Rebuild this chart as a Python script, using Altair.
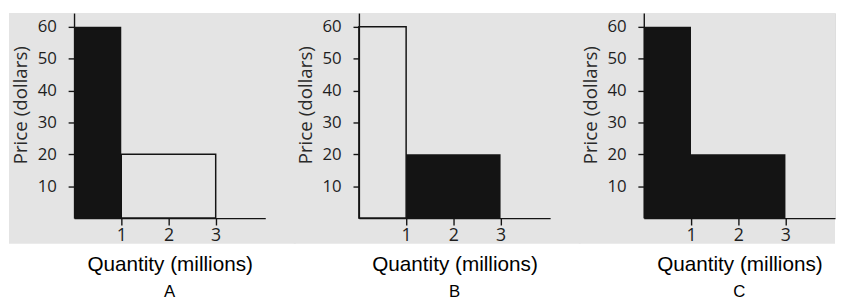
import altair as alt
import pandas as pd

# ---- data ----
panels = ["A", "B", "C"]
q_start = [0, 1]          # quantity where each block starts (millions)
q_end = [1, 3]            # quantity where each block ends (millions)
price = [60, 20]          # price of each block (dollars)
filled = {"A": [True, False], "B": [False, True], "C": [True, True]}
x_ticks = [1, 2, 3]
y_ticks = [10, 20, 30, 40, 50, 60]

W, H = 194, 208
GRAY = "#e4e4e4"
INK = "#141414"

xs = alt.Scale(domain=[0, 4.05], nice=False, zero=False)
ys = alt.Scale(domain=[0, 64.3], nice=False, zero=False)

xaxis = alt.Axis(values=x_ticks, title="Quantity  (millions)", grid=False,
                 domainColor=INK, domainWidth=1.4, tickColor=INK, tickWidth=1.4,
                 tickSize=7, labelFont="Open Sans", labelFontSize=18,
                 labelColor="#1e1e1e", labelPadding=2, labelFlush=False,
                 titleFont="Liberation Sans", titleFontSize=21,
                 titleFontWeight="normal", titleColor="black", titlePadding=9,
                 zindex=1)
yaxis = alt.Axis(values=y_ticks, title="Price (dollars)", grid=False,
                 domainColor=INK, domainWidth=1.4, tickColor=INK, tickWidth=1.4,
                 tickSize=6, labelFont="Open Sans", labelFontSize=17,
                 labelColor="#1e1e1e", labelPadding=12, labelFlush=False,
                 titleFont="Open Sans", titleFontSize=19, titleY=93,
                 titleFontWeight="normal", titleColor="#2a2a2a", titlePadding=7,
                 zindex=1)


def panel(name, gray_right):
    df = pd.DataFrame({"q0": q_start, "q1": q_end, "p": price,
                       "filled": filled[name]})
    bg = alt.Chart(alt.Data(values=[{"k": 1}])).mark_rect(color=GRAY).encode(
        x=alt.value(-66), x2=alt.value(gray_right),
        y=alt.value(0), y2=alt.value(H + 26))
    enc = dict(
        x=alt.X("q0:Q", scale=xs, axis=xaxis),
        x2="q1:Q",
        y=alt.Y("p:Q", scale=ys, axis=yaxis),
        y2=alt.datum(0),
    )
    outline = alt.Chart(df).transform_filter("!datum.filled").mark_rect(
        fill="transparent", stroke=INK, strokeWidth=1.5).encode(**enc)
    solid = alt.Chart(df).transform_filter("datum.filled").mark_rect(
        color=INK).encode(**enc)
    return alt.layer(bg, outline, solid).properties(
        width=W, height=H,
        title=alt.TitleParams(name, orient="bottom", fontSize=17,
                              font="Liberation Sans", fontWeight="normal",
                              color="black", offset=10, anchor="middle"))


charts = [panel("A", W + 31), panel("B", W + 31), panel("C", W)]
chart = alt.hconcat(*charts, spacing=95, bounds="flush").properties(
    padding={"left": 0, "top": 2, "right": 0, "bottom": 0}
).configure_view(stroke=None).configure(background="white")

chart.save("out.html", embed_options={"renderer": "svg", "actions": False})
